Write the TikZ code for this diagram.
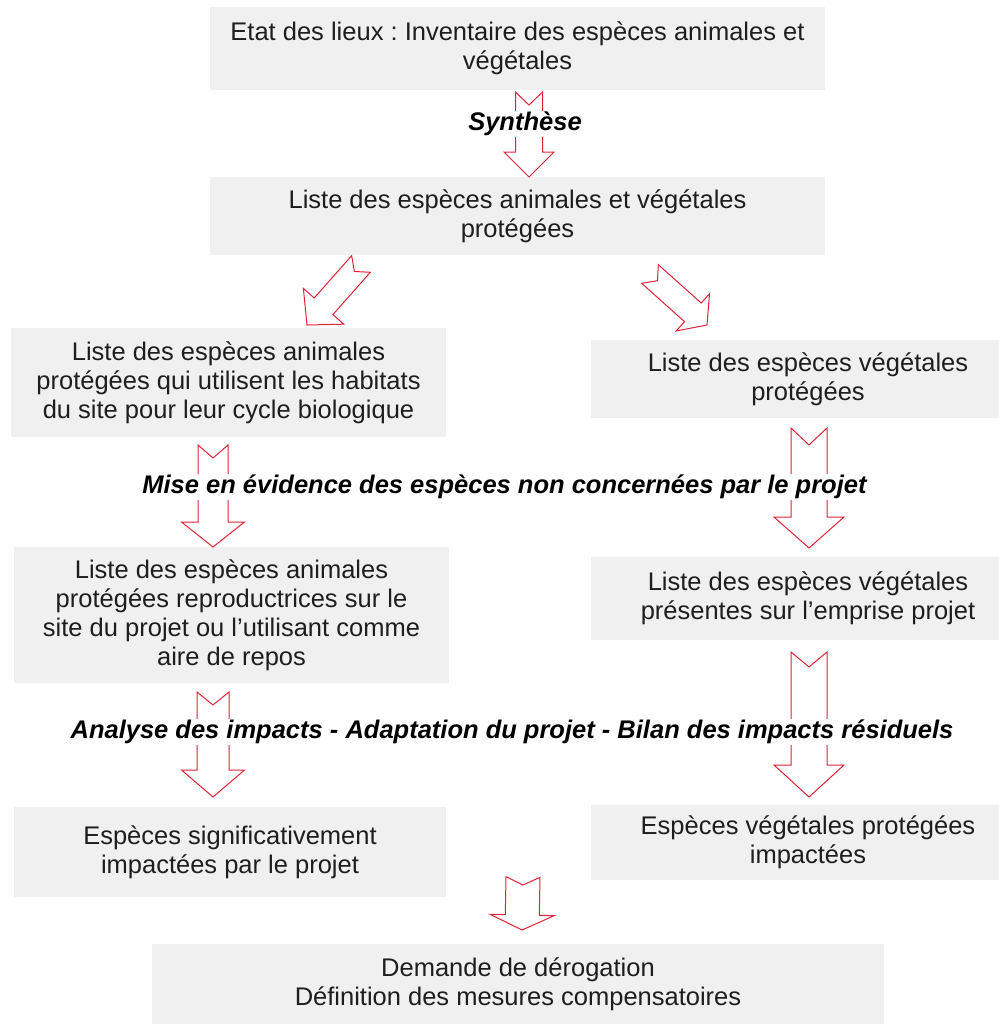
\documentclass[tikz,border=0pt]{standalone}
\usepackage{fontspec}
\setmainfont{Liberation Sans}
\usepackage{tikz}
\usetikzlibrary{calc}
\frenchspacing

\definecolor{boxgray}{RGB}{240,240,240}
\definecolor{arrowred}{RGB}{225,35,55}
\definecolor{textgray}{RGB}{30,30,30}

\newcommand{\boxfont}{\fontsize{25.5}{29}\selectfont}

% notched block arrow: #1 tail, #2 tip, #3 shaft half width, #4 head half width, #5 head length, #6 notch depth
\newcommand{\blockarrow}[6]{%
  \coordinate (bh) at ($(#2)!#5pt!(#1)$);
  \draw[notched] ($(#1)!#3pt!90:(#2)$) -- ($(#1)!#6pt!(#2)$) -- ($(#1)!#3pt!-90:(#2)$)
    -- ($(bh)!#3pt!-90:(#2)$) -- ($(bh)!#4pt!-90:(#2)$) -- (#2)
    -- ($(bh)!#4pt!90:(#2)$) -- ($(bh)!#3pt!90:(#2)$) -- cycle;
}

\begin{document}
\begin{tikzpicture}[x=1pt, y=-1pt]
        % Define block styles
        \tikzstyle{box} = [rectangle, fill=boxgray, text=textgray, align=center, inner sep=0pt, font=\boxfont]
        \tikzstyle{phase} = [fill=white, inner xsep=2pt, inner ysep=1pt, text=black, font=\boxfont\bfseries\itshape]
        \tikzstyle{notched} = [draw=arrowred, fill=white, line width=1pt, line join=miter]

        \useasboundingbox (0,0) rectangle (999,1029);

        % Define nodes
        \node [box, minimum width=615pt, minimum height=83pt] (etat) at (517.5,48.5) {Etat des lieux : Inventaire des espèces animales et\\végétales};
        \node [box, minimum width=615pt, minimum height=78pt] (liste) at (517.5,216) {Liste des espèces animales et végétales\\protégées};
        \node [box, minimum width=435pt, minimum height=109pt] (animaux) at (228.5,382.5) {Liste des espèces animales\\protégées qui utilisent les habitats\\du site pour leur cycle biologique};
        \node [box, minimum width=434pt, minimum height=78pt] (vegetaux) at (808,379) {Liste des espèces végétales\\protégées};
        \node [box, minimum width=435pt, minimum height=136pt] (animauxsite) at (231.5,615) {Liste des espèces animales\\protégées reproductrices sur le\\site du projet ou l’utilisant comme\\aire de repos};
        \node [box, minimum width=434pt, minimum height=83pt] (vegetauxsite) at (808,598.5) {Liste des espèces végétales\\présentes sur l’emprise projet};
        \node [box, minimum width=432pt, minimum height=90pt] (impactes) at (230,852) {Espèces significativement\\impactées par le projet};
        \node [box, minimum width=434pt, minimum height=75pt] (vegimpactes) at (808,842.5) {Espèces végétales protégées\\impactées};
        \node [box, minimum width=732pt, minimum height=80pt] (derogation) at (518,984) {Demande de dérogation\\Définition des mesures compensatoires};

        % Arrow ends
        \coordinate (synA) at (529,92);    \coordinate (synB) at (529,177);
        \coordinate (gauA) at (361,264);   \coordinate (gauB) at (307,325);
        \coordinate (droA) at (650,274);   \coordinate (droB) at (707,325);
        \coordinate (misA) at (213,445);   \coordinate (misB) at (213,547);
        \coordinate (misC) at (809,428);   \coordinate (misD) at (809,548);
        \coordinate (anaA) at (213,692);   \coordinate (anaB) at (213,797);
        \coordinate (anaC) at (809,652);   \coordinate (anaD) at (809,797);
        \coordinate (fin) at (523,877);    \coordinate (finB) at (522,930);

        % Connect nodes with block arrows
        \blockarrow{synA}{synB}{13.5}{25}{25}{13}
        \blockarrow{gauA}{gauB}{12.5}{27}{25}{10}
        \blockarrow{droA}{droB}{12.5}{25}{19}{10}
        \blockarrow{misA}{misB}{15}{31.5}{25}{13}
        \blockarrow{misC}{misD}{18}{35}{31}{17}
        \blockarrow{anaA}{anaB}{16}{31.5}{27}{13}
        \blockarrow{anaC}{anaD}{18}{35}{32}{15}
        \blockarrow{fin}{finB}{17}{32}{15}{8}

        % Phase labels
        \node [phase] (synthese) at (525,124) {Synthèse};
        \node [phase] (mise) at (504.5,487) {Mise en évidence des espèces non concernées par le projet};
        \node [phase] (analyse) at (512,732) {Analyse des impacts - Adaptation du projet - Bilan des impacts résiduels};

    \end{tikzpicture}
\end{document}
